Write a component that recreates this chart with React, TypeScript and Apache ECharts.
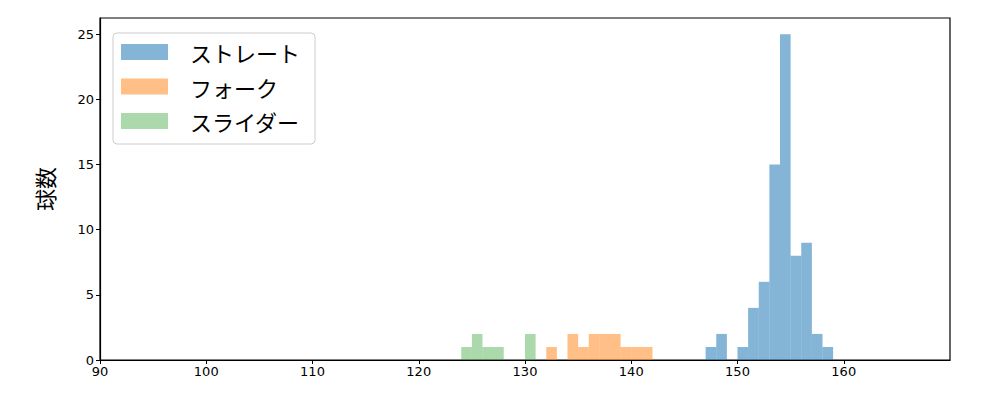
import React, { useEffect, useRef } from "react";
import * as echarts from "echarts";

const seriesNames = ["ストレート", "フォーク", "スライダー"];
const seriesColors = ["rgba(31,119,180,0.55)", "rgba(255,127,14,0.5)", "rgba(44,160,44,0.4)"];
// bin start values (width 1) and counts
const straightBins = [147, 148, 150, 151, 152, 153, 154, 155, 156, 157, 158];
const straightCounts = [1, 2, 1, 4, 6, 15, 25, 8, 9, 2, 1];
const forkBins = [132, 134, 135, 136, 137, 138, 139, 140, 141];
const forkCounts = [1, 2, 1, 2, 2, 2, 1, 1, 1];
const sliderBins = [124, 125, 126, 127, 130];
const sliderCounts = [1, 2, 1, 1, 2];
const binWidth = 1;
const yTicks = [0, 5, 10, 15, 20, 25];
const xTicks = [90, 100, 110, 120, 130, 140, 150, 160];

const FONT = "'DejaVu Sans', 'Noto Sans CJK JP', sans-serif";
const JP = "'Noto Sans CJK JP', sans-serif";

function makeSeries(name: string, color: string, bins: number[], counts: number[]) {
  return {
    name,
    type: "custom",
    itemStyle: { color },
    data: bins.map((b, i) => [b, counts[i]]),
    encode: { x: 0, y: 1 },
    renderItem: (params: any, api: any) => {
      const x0 = api.value(0);
      const c = api.value(1);
      const p0 = api.coord([x0, 0]);
      const p1 = api.coord([x0 + binWidth, c]);
      return {
        type: "rect",
        shape: { x: p0[0], y: p1[1], width: p1[0] - p0[0], height: p0[1] - p1[1] },
        style: { fill: color },
      };
    },
  };
}

export default function App() {
  const ref = useRef<HTMLDivElement>(null);
  useEffect(() => {
    if (!ref.current) return;
    const chart = echarts.init(ref.current, undefined, { renderer: "svg" });
    chart.setOption({
      animation: false,
      backgroundColor: "#fff",
      grid: {
        left: 100,
        top: 18,
        width: 850,
        height: 342,
        show: true,
        borderColor: "#000",
        borderWidth: 1.2,
        backgroundColor: "transparent",
      },
      xAxis: {
        type: "value",
        min: 90,
        max: 170,
        interval: 10,
        splitLine: { show: false },
        axisLine: { show: true, onZero: false, lineStyle: { color: "#000", width: 1.2 } },
        axisTick: { show: true, length: 4, lineStyle: { color: "#000" }, customValues: xTicks },
        axisLabel: {
          color: "#000",
          fontSize: 13,
          fontFamily: FONT,
          margin: 5,
          customValues: xTicks,
        },
      },
      yAxis: {
        type: "value",
        min: 0,
        max: 26.25,
        interval: 5,
        name: "球数",
        nameLocation: "middle",
        nameGap: 45,
        nameTextStyle: { fontSize: 22, color: "#000", fontFamily: JP },
        splitLine: { show: false },
        axisLine: { show: true, lineStyle: { color: "#000", width: 1.2 } },
        axisTick: { show: true, length: 4, lineStyle: { color: "#000" }, customValues: yTicks },
        axisLabel: { color: "#000", fontSize: 13, fontFamily: FONT, margin: 6, customValues: yTicks },
      },
      legend: {
        orient: "vertical",
        left: 113,
        top: 33,
        padding: [8, 15, 12, 8],
        itemWidth: 47,
        itemHeight: 16,
        itemGap: 12.5,
        icon: "rect",
        borderColor: "#ccc",
        borderWidth: 1,
        borderRadius: 4,
        backgroundColor: "#fff",
        textStyle: { fontSize: 22, color: "#000", fontFamily: JP, padding: [0, 0, 0, 17] },
        data: seriesNames.map((n) => ({ name: n, icon: "rect" })),
      },
      series: [
        makeSeries(seriesNames[0], seriesColors[0], straightBins, straightCounts),
        makeSeries(seriesNames[1], seriesColors[1], forkBins, forkCounts),
        makeSeries(seriesNames[2], seriesColors[2], sliderBins, sliderCounts),
      ],
    });
    return () => chart.dispose();
  }, []);
  return <div ref={ref} style={{ position: "fixed", left: 0, top: 0, width: 1000, height: 400 }} />;
}
